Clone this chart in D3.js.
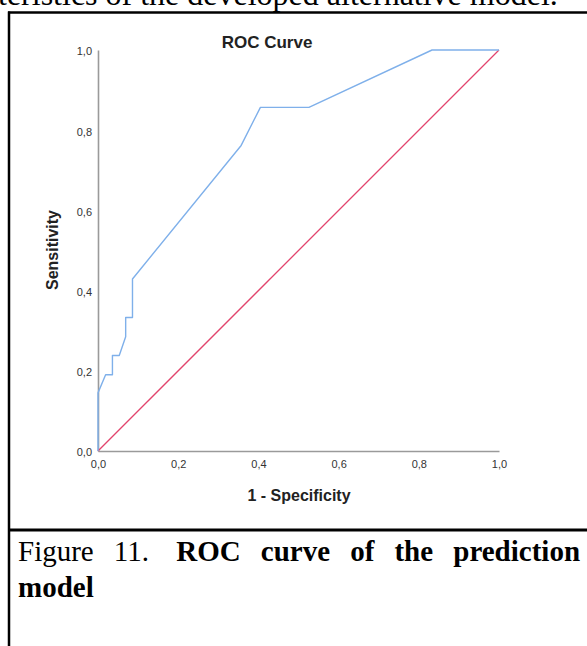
<!DOCTYPE html>
<html>
<head>
<meta charset="utf-8">
<script src="https://cdn.jsdelivr.net/npm/d3@7"></script>
<style>
  html, body { margin: 0; padding: 0; background: #fff; }
  svg { display: block; }
</style>
</head>
<body>
<div id="chart"></div>
<script>
// ROC curve points (1 - specificity, sensitivity)
var fpr = [0, 0, 0.019, 0.036, 0.036, 0.053, 0.069, 0.069, 0.086, 0.086, 0.357, 0.405, 0.526, 0.833, 1];
var tpr = [0, 0.145, 0.19, 0.19, 0.238, 0.238, 0.285, 0.333, 0.333, 0.429, 0.762, 0.857, 0.857, 1, 1];
// reference line
var refX = [0, 1];
var refY = [0, 1];
var ticks = [0, 0.2, 0.4, 0.6, 0.8, 1.0];

var topText = "teristics of the developed alternative model.";
var capPlain = "Figure 11.";
var capBold = "ROC curve of the prediction";
var capBold2 = "model";

var W = 587, H = 646;
var svg = d3.select("#chart").append("svg")
    .attr("width", W)
    .attr("height", H);

var serif = "'Liberation Serif', 'Times New Roman', serif";
var sans = "Arial, 'Liberation Sans', sans-serif";

// text above the figure (cut off at the top)
svg.append("text")
    .attr("x", -2)
    .attr("y", 5)
    .style("font-family", serif)
    .style("font-size", "32px")
    .attr("fill", "#000")
    .text(topText);

// table borders
svg.append("line").attr("x1", 8).attr("x2", W).attr("y1", 12.5).attr("y2", 12.5)
    .attr("stroke", "#000").attr("stroke-width", 2.5);
svg.append("line").attr("x1", 9).attr("x2", 9).attr("y1", 11.5).attr("y2", H)
    .attr("stroke", "#000").attr("stroke-width", 2.5);
svg.append("line").attr("x1", 8).attr("x2", W).attr("y1", 530).attr("y2", 530)
    .attr("stroke", "#000").attr("stroke-width", 3);

var margin = {left: 98, top: 50};
var pw = 401, ph = 401;

var g = svg.append("g")
    .attr("transform", "translate(" + margin.left + "," + margin.top + ")");

var x = d3.scaleLinear().domain([0, 1]).range([0, pw]);
var y = d3.scaleLinear().domain([0, 1]).range([ph, 0]);

var fmt = function(d) { return d3.format(".1f")(d).replace(".", ","); };

var xAxis = d3.axisBottom(x).tickValues(ticks).tickSize(0).tickPadding(9).tickFormat(fmt);
var yAxis = d3.axisLeft(y).tickValues(ticks).tickSize(0).tickPadding(6).tickFormat(fmt);

var gx = g.append("g")
    .attr("transform", "translate(0," + ph + ")")
    .call(xAxis);
var gy = g.append("g").call(yAxis);

[gx, gy].forEach(function(a) {
    a.select(".domain").attr("stroke", "#9a9a9a").attr("stroke-width", 1.6);
    a.selectAll("text")
        .style("font-family", sans)
        .style("font-size", "11px")
        .attr("fill", "#333");
});
gy.selectAll("text").attr("dy", "0.45em");

var ref = refX.map(function(d, i) { return {x: d, y: refY[i]}; });
var roc = fpr.map(function(d, i) { return {x: d, y: tpr[i]}; });

var line = d3.line()
    .x(function(d) { return x(d.x); })
    .y(function(d) { return y(d.y); });

// diagonal reference line
g.append("path")
    .datum(ref)
    .attr("fill", "none")
    .attr("stroke", "#e2446d")
    .attr("stroke-width", 1.3)
    .attr("d", line);

g.append("path")
    .datum(roc)
    .attr("fill", "none")
    .attr("stroke", "#7fb0ea")
    .attr("stroke-width", 1.4)
    .attr("stroke-linejoin", "round")
    .attr("d", line);

// titles
svg.append("text")
    .attr("x", 267)
    .attr("y", 48)
    .attr("text-anchor", "middle")
    .style("font-family", sans)
    .style("font-weight", "bold")
    .style("font-size", "17px")
    .attr("fill", "#222")
    .text("ROC Curve");

svg.append("text")
    .attr("x", 299)
    .attr("y", 501)
    .attr("text-anchor", "middle")
    .style("font-family", sans)
    .style("font-weight", "bold")
    .style("font-size", "16px")
    .attr("fill", "#222")
    .text("1 - Specificity");

svg.append("text")
    .attr("transform", "translate(58,250) rotate(-90)")
    .attr("text-anchor", "middle")
    .style("font-family", sans)
    .style("font-weight", "bold")
    .style("font-size", "16px")
    .attr("fill", "#222")
    .text("Sensitivity");

// caption, first line justified to the cell edge
var cap = svg.append("text")
    .attr("x", 18)
    .attr("y", 561)
    .style("font-family", serif)
    .style("font-size", "29px")
    .attr("fill", "#000");
cap.append("tspan").text(capPlain);
cap.append("tspan").attr("dx", 7).style("font-weight", "bold").text(" " + capBold);

var len = cap.node().getComputedTextLength() + 7;
var gaps = (capPlain + " " + capBold).split(" ").length - 1;
cap.attr("word-spacing", Math.max(0, (580 - 18 - len) / gaps));

svg.append("text")
    .attr("x", 18)
    .attr("y", 597)
    .style("font-family", serif)
    .style("font-size", "29px")
    .style("font-weight", "bold")
    .attr("fill", "#000")
    .text(capBold2);
</script>
</body>
</html>
